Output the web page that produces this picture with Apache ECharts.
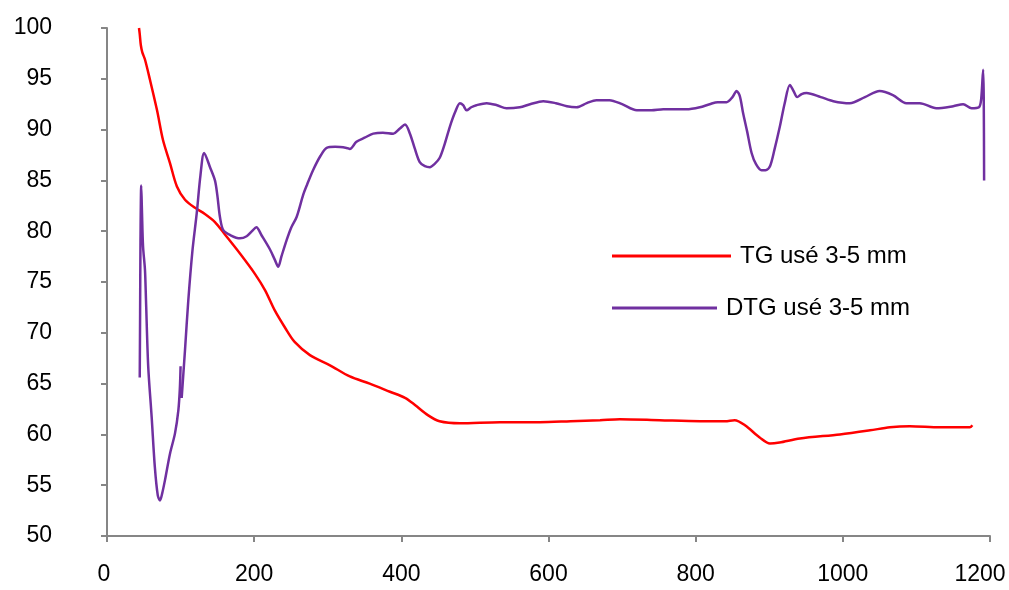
<!DOCTYPE html>
<html>
<head>
<meta charset="utf-8">
<script src="https://cdn.jsdelivr.net/npm/echarts@6/dist/echarts.min.js"></script>
<style>html,body{margin:0;padding:0;background:#fff;}#c{width:1009px;height:590px;}</style>
</head>
<body>
<div id="c"></div>
<script>
const xTicks = [0, 200, 400, 600, 800, 1000, 1200];
const yTicks = [50, 55, 60, 65, 70, 75, 80, 85, 90, 95, 100];
const seriesNames = ["TG usé 3-5 mm", "DTG usé 3-5 mm"];

const tgX = [43.5,44.5,46,48,51.6,58.4,68,76,85.6,95,106,119.6,133,146.7,160,180.7,201,214.7,228,242,255,275.8,303,330,357,384.5,405,418.5,436,452,479.6,534,588,630,670,697,751,806,840,853,867,887,901,914,941.6,996,1037,1064,1091,1132,1172.6,1176];
const tgY = [100,99.4,98.3,97.6,96.9,94.9,91.9,89,86.7,84.4,83.1,82.3,81.7,80.9,79.7,77.8,75.8,74.2,72.2,70.5,69.1,67.8,66.8,65.7,65.0,64.2,63.6,62.9,61.9,61.3,61.1,61.2,61.2,61.3,61.4,61.5,61.4,61.3,61.3,61.4,60.9,59.7,59.1,59.2,59.6,60.0,60.4,60.7,60.8,60.7,60.7,60.9];

const dtgX = [44.5,45,45.5,46.5,47.5,49,51.6,53,56,60.7,65,69,72,75,78.8,85.6,92.4,97,99,100,null,
101.5,106,110.5,116,122,127,132,140,146.7,150,153.5,158,168,180.7,189.8,197,203,210,221.5,228,232.7,237,244,250,257.7,266.7,272,280,290,298.5,310,325.6,330,339,350,361.8,375,389,398,405,411.7,418,425,432,438.8,445,452,459,466,473,479.6,484,488.7,495,502,516,530,543,561,575,592.8,610,625,638,652,665,683,700,720,740,756,787.5,805.6,819,830,842,850,855.6,860,864.5,870,876,882,889.5,895,901,907,914.4,921,928,933,938,944,950.6,970,987,1009.5,1030,1050,1068,1086.5,1104.6,1127,1150,1163.5,1175,1185,1188,1190.7,1191.5,1192];
const dtgY = [65.6,72,79,84.5,82,78.5,76.2,73.2,66.7,61.7,56.8,54,53.5,54.2,55.5,58.1,60.1,62.4,64.5,66.7,null,
63.6,68.3,73.2,78,81.8,85.5,87.7,86.3,85.0,83.5,81.4,80.1,79.6,79.3,79.5,80,80.4,79.6,78.2,77.2,76.5,77.5,79.1,80.3,81.4,83.6,84.6,86.0,87.4,88.2,88.3,88.2,88.1,88.8,89.2,89.6,89.7,89.6,90.1,90.5,89.6,88.2,86.8,86.4,86.3,86.6,87.2,88.6,90.3,91.7,92.6,92.4,91.9,92.2,92.4,92.6,92.4,92.1,92.2,92.5,92.8,92.6,92.3,92.2,92.6,92.9,92.9,92.5,91.9,91.9,92.0,92.0,92.2,92.5,92.7,92.7,93.2,93.8,93.3,91.6,89.8,87.7,86.6,86.0,86.0,86.4,88,90.3,92.6,94.4,93.8,93.2,93.5,93.6,93.2,92.8,92.6,93.2,93.8,93.4,92.6,92.6,92.1,92.3,92.5,92.1,92.2,93,95.9,93,85.0];

const pair = (xs, ys) => xs.map((x, i) => (x === null ? [null, null] : [x, ys[i]]));

const FONT = 'Liberation Sans';
const axisColor = '#868686';
const xMax = xTicks[xTicks.length - 1];
const chart = echarts.init(document.getElementById('c'), null, {renderer: 'canvas'});
chart.setOption({
  animation: false,
  backgroundColor: '#ffffff',
  grid: {left: 107, right: 19, top: 28, bottom: 54, containLabel: false, outerBoundsMode: 'none'},
  xAxis: {
    type: 'value', min: xTicks[0], max: xMax, interval: 200,
    axisLine: {show: true, onZero: false, lineStyle: {color: axisColor, width: 2}},
    axisTick: {show: true, inside: false, length: 6, lineStyle: {color: axisColor, width: 2}},
    axisLabel: {color: '#000', fontFamily: FONT, fontSize: 23, margin: 27,
      formatter: v => (v === xMax ? '{r|' + v + '}' : (v === 0 ? '{l|' + v + '}' : String(v))),
      rich: {r: {fontFamily: FONT, fontSize: 23, color: '#000', padding: [0, 20, 0, 0]},
             l: {fontFamily: FONT, fontSize: 23, color: '#000', padding: [0, 6, 0, 0]}}},
    splitLine: {show: false}
  },
  yAxis: {
    type: 'value', min: yTicks[0], max: yTicks[yTicks.length - 1], interval: 5,
    axisLine: {show: true, onZero: false, lineStyle: {color: axisColor, width: 2}},
    axisTick: {show: true, inside: false, length: 6, lineStyle: {color: axisColor, width: 2}},
    axisLabel: {color: '#000', fontFamily: FONT, fontSize: 23, margin: 55, formatter: v => String(v)},
    splitLine: {show: false}
  },
  legend: [
    {data: [seriesNames[0]], left: 607, top: 239, orient: 'vertical', icon: 'rect', itemWidth: 119, itemHeight: 3,
     textStyle: {fontFamily: FONT, fontSize: 24, color: '#000', padding: [0, 0, 0, 4]}},
    {data: [seriesNames[1]], left: 607, top: 291, orient: 'vertical', icon: 'rect', itemWidth: 105, itemHeight: 3,
     textStyle: {fontFamily: FONT, fontSize: 24, color: '#000', padding: [0, 0, 0, 4]}}
  ],
  series: [
    {name: seriesNames[0], type: 'line', data: pair(tgX, tgY), showSymbol: false, smooth: 0.3,
     lineStyle: {color: '#FF0000', width: 2.5}, itemStyle: {color: '#FF0000'}},
    {name: seriesNames[1], type: 'line', data: pair(dtgX, dtgY), showSymbol: false, smooth: 0.3, connectNulls: false,
     lineStyle: {color: '#7030A0', width: 2.5}, itemStyle: {color: '#7030A0'}}
  ]
});
</script>
</body>
</html>
